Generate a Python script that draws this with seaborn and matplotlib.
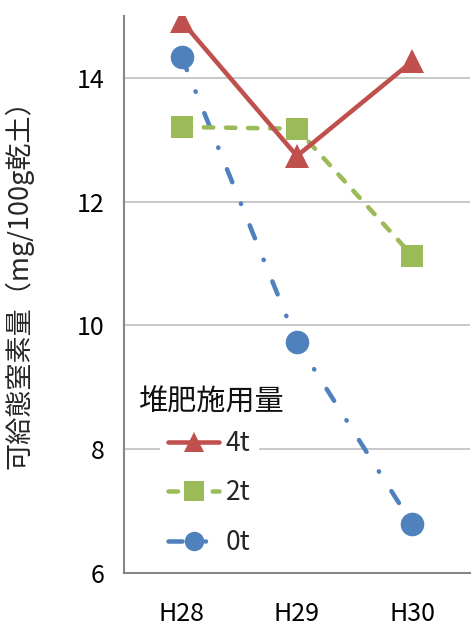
import matplotlib
matplotlib.use("Agg")
import matplotlib.pyplot as plt
import seaborn as sns
import pandas as pd

# Data
years = ["H28", "H29", "H30"]
n_4t = [14.92, 12.74, 14.27]
n_2t = [13.21, 13.18, 11.13]
n_0t = [14.34, 9.73, 6.79]
series_labels = ["4t", "2t", "0t"]
y_ticks = [6, 8, 10, 12, 14]
legend_title = "堆肥施用量"

df = pd.DataFrame({
    "year": years * 3,
    "value": n_4t + n_2t + n_0t,
    "treatment": [series_labels[0]] * 3 + [series_labels[1]] * 3 + [series_labels[2]] * 3,
})

sns.set_theme(style="white")
plt.rcParams["font.family"] = ["Noto Sans CJK JP", "DejaVu Sans"]

fig = plt.figure(figsize=(4.77, 6.26), dpi=100)
ax = fig.add_axes([0.26, 0.085, 0.725, 0.889])

styles = {
    "0t": dict(color="#4F81BD", marker="o", ms=17, dashes=(3.1, 5.1, 0.1, 5.1), z=2),
    "2t": dict(color="#9BBB59", marker="s", ms=16, dashes=(2.1, 2.8), z=3),
    "4t": dict(color="#C0504D", marker="^", ms=17, dashes=None, z=4),
}

handles = {}
for lab in ["0t", "2t", "4t"]:
    st = styles[lab]
    sub = df[df["treatment"] == lab]
    sns.lineplot(data=sub, x="year", y="value", ax=ax, color=st["color"],
                 marker=st["marker"], markersize=st["ms"], markeredgewidth=0,
                 linewidth=3.25, zorder=st["z"], label=lab, sort=False)
    line = ax.lines[-1]
    line.set_solid_capstyle("round")
    line.set_dash_capstyle("round")
    if st["dashes"] is not None:
        line.set_dashes(st["dashes"])
    handles[lab] = line

ax.set_xlim(-0.5, 2.5)
ax.set_ylim(6, 15)
ax.set_yticks(y_ticks)
ax.set_xticks(range(len(years)))
ax.set_xticklabels(years)
ax.tick_params(axis="y", labelsize=18, colors="black", length=0, pad=14)
ax.tick_params(axis="x", labelsize=18, colors="black", length=0, pad=20)
ax.set_xlabel("")
ax.set_ylabel("可給態窒素量（mg/100g乾土）", fontsize=19.5)
ax.yaxis.set_label_coords(-0.262, 0.53)

ax.grid(axis="y", color="#BFBFBF", linewidth=1.2)
ax.set_axisbelow(True)
for s in ["top", "right"]:
    ax.spines[s].set_visible(False)
for s in ["left", "bottom"]:
    ax.spines[s].set_color("#868686")
    ax.spines[s].set_linewidth(1.5)

# legend entries, with the heading set above them and a little to the left
leg = ax.legend([handles["4t"], handles["2t"], handles["0t"]], series_labels,
                loc="upper left", bbox_to_anchor=(0.104, 0.271),
                frameon=True, fontsize=19, handlelength=1.95,
                labelspacing=0.85, handletextpad=0.25, borderpad=0.3,
                borderaxespad=0)
leg.get_frame().set_facecolor("white")
leg.get_frame().set_edgecolor("white")
leg.get_frame().set_alpha(1)
for h in leg.legend_handles:
    h.set_markersize(14)
ax.text(0.04, 0.306, legend_title, transform=ax.transAxes, fontsize=21,
        ha="left", va="center", color="#111111", zorder=6)

fig.savefig("out.png", dpi=100)
